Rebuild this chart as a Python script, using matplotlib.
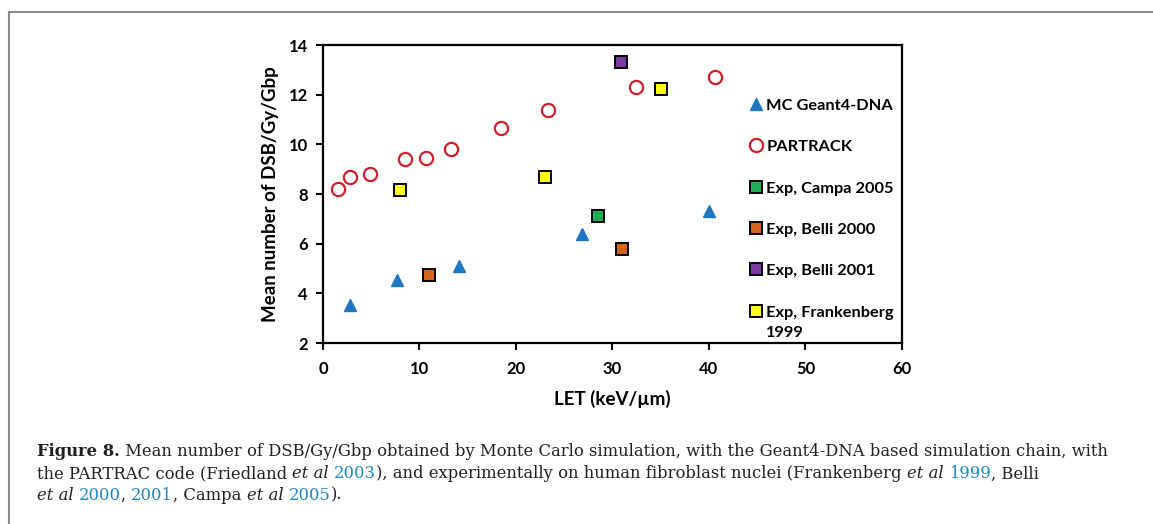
import matplotlib
matplotlib.use("Agg")
import matplotlib.pyplot as plt
from matplotlib.lines import Line2D

# --- data ---
mc_let = [2.8, 7.7, 14.1, 26.8, 40.0]
mc_dsb = [3.55, 4.52, 5.12, 6.40, 7.33]

partrac_let = [1.6, 2.8, 4.9, 8.5, 10.7, 13.3, 18.5, 23.3, 32.4, 40.6]
partrac_dsb = [8.2, 8.68, 8.8, 9.4, 9.47, 9.8, 10.67, 11.38, 12.3, 12.7]

campa_let = [28.5]
campa_dsb = [7.1]
belli2000_let = [11.0, 31.0]
belli2000_dsb = [4.75, 5.8]
belli2001_let = [30.9]
belli2001_dsb = [13.3]
frank_let = [8.0, 23.0, 35.0]
frank_dsb = [8.17, 8.68, 12.22]

xticks = [0, 10, 20, 30, 40, 50, 60]
yticks = [2, 4, 6, 8, 10, 12, 14]

plt.rcParams['font.family'] = ['Lato', 'DejaVu Sans']

fig = plt.figure(figsize=(11.53, 5.24), dpi=100)
ax = fig.add_axes([0.2801, 0.3454, 0.5022, 0.5687])

ax.plot(mc_let, mc_dsb, linestyle='none', marker='^', ms=9, color='#1f77c4',
        mec='#1f77c4', label='MC Geant4-DNA')
ax.plot(partrac_let, partrac_dsb, linestyle='none', marker='o', ms=9.5, mfc='white',
        mec='#d0202a', mew=1.6, label='PARTRACK')
sq = dict(linestyle='none', marker='s', ms=8, mec='black', mew=1.4)
ax.plot(campa_let, campa_dsb, mfc='#1fae55', label='Exp, Campa 2005', **sq)
ax.plot(belli2000_let, belli2000_dsb, mfc='#d4651c', label='Exp, Belli 2000', **sq)
ax.plot(belli2001_let, belli2001_dsb, mfc='#7c3aa0', label='Exp, Belli 2001', **sq)
ax.plot(frank_let, frank_dsb, mfc='#ffff1a', label='Exp, Frankenberg', **sq)

ax.set_xlim(0, 60)
ax.set_ylim(2, 14)
ax.set_xticks(xticks)
ax.set_yticks(yticks)
ax.tick_params(direction='out', length=5, width=1.5, labelsize=12)
ax.tick_params(axis='x', pad=8)
ax.tick_params(axis='y', pad=6)
for lab in ax.get_xticklabels() + ax.get_yticklabels():
    lab.set_fontweight('bold')
for s in ax.spines.values():
    s.set_linewidth(1.6)
ax.set_xlabel('LET (keV/µm)', fontsize=13.5, fontweight='bold', labelpad=9)
ax.set_ylabel('Mean number of DSB/Gy/Gbp', fontsize=13.5, fontweight='bold', labelpad=7)

leg = ax.legend(loc='upper left', bbox_to_anchor=(0.722, 0.843), frameon=False,
                prop={'weight': 'bold', 'size': 11.8}, labelspacing=1.64,
                handletextpad=0.15, handlelength=1.0, borderaxespad=0)

renderer = fig.canvas.get_renderer()
fig.canvas.draw()
# second line of the last legend label, under its first line
last = leg.get_texts()[-1].get_window_extent(renderer=renderer)
fig.text(last.x0 / 1153, (last.y0 - 13) / 524, '1999', fontsize=11.8, fontweight='bold',
         ha='left', va='center')

# gray frame lines (top and left only visible)
fig.add_artist(Line2D([9 / 1153, 1], [1 - 12 / 524, 1 - 12 / 524], color='#8a8a8a', lw=1.5))
fig.add_artist(Line2D([9 / 1153, 9 / 1153], [0, 1 - 12 / 524], color='#8a8a8a', lw=1.5))

# caption with mixed styles
blue = '#1e88c8'
dark = '#231f20'
lines = [
    [("Figure 8.", dict(fontweight='bold')),
     (" Mean number of DSB/Gy/Gbp obtained by Monte Carlo simulation, with the Geant4-DNA based simulation chain, with", {})],
    [("the PARTRAC code (Friedland ", {}), ("et al", dict(style='italic')), (" ", {}), ("2003", dict(color=blue)),
     ("), and experimentally on human fibroblast nuclei (Frankenberg ", {}), ("et al", dict(style='italic')),
     (" ", {}), ("1999", dict(color=blue)), (", Belli", {})],
    [("et al", dict(style='italic')), (" ", {}), ("2000", dict(color=blue)), (", ", {}), ("2001", dict(color=blue)),
     (", Campa ", {}), ("et al", dict(style='italic')), (" ", {}), ("2005", dict(color=blue)), (").", {})],
]
y_px = [452, 474, 495]
for line, yp in zip(lines, y_px):
    x = 37
    for txt, kw in line:
        style = dict(fontsize=11.75, family='DejaVu Serif', color=dark, va='center', ha='left')
        style.update(kw)
        t = fig.text(x / 1153, 1 - yp / 524, txt, **style)
        bb = t.get_window_extent(renderer=renderer)
        x += bb.width

fig.savefig('out.png', dpi=100)
